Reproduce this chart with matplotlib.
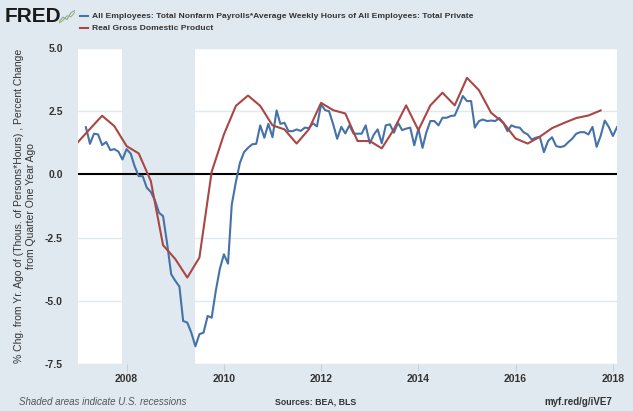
import matplotlib
matplotlib.use('Agg')
import matplotlib.pyplot as plt
import matplotlib.dates as mdates
import pandas as pd

# monthly: % chg from yr ago of (payrolls * avg weekly hours), Mar 2007 - Feb 2018
hours_start, hours_end = '2007-03-01', '2018-02-01'
hours_pct = [
    1.87, 1.21, 1.61, 1.58, 1.16, 1.28, 0.96, 1.00, 0.90, 0.59,
    1.00, 0.82, 0.33, -0.07, -0.07, -0.53, -0.69, -1.03, -1.52, -1.65, -2.75, -3.95,
    -4.21, -4.44, -5.80, -5.86, -6.26, -6.80, -6.32, -6.26, -5.60, -5.67, -4.61, -3.75,
    -3.16, -3.53, -1.20, -0.30, 0.45, 0.88, 1.05, 1.19, 1.21, 1.94, 1.45, 2.00,
    1.47, 2.53, 2.00, 2.04, 1.71, 1.71, 1.78, 1.72, 1.85, 1.83, 2.02, 1.90,
    2.77, 2.54, 2.50, 1.98, 1.41, 1.88, 1.62, 1.94, 1.61, 1.61, 1.61, 1.94,
    1.23, 1.58, 1.78, 1.23, 1.94, 1.98, 1.65, 2.04, 1.75, 1.81, 1.85, 1.15,
    1.81, 1.05, 1.65, 2.11, 2.11, 1.94, 2.24, 2.24, 2.31, 2.33, 2.70, 3.10,
    2.90, 2.90, 1.85, 2.11, 2.17, 2.11, 2.13, 2.11, 2.23, 2.04, 1.71, 1.94,
    1.87, 1.85, 1.67, 1.58, 1.38, 1.45, 1.49, 0.88, 1.32, 1.47, 1.12, 1.08,
    1.12, 1.28, 1.41, 1.61, 1.67, 1.67, 1.58, 1.88, 1.09, 1.52, 2.13, 1.88,
    1.52, 1.87,
]

# quarterly: real GDP, percent change from quarter one year ago, 2007Q1 - 2017Q4
gdp_start, gdp_end = '2007-01-01', '2017-10-01'
gdp_pct = [
    1.28, 1.80, 2.32, 1.91,
    1.12, 0.83, -0.26, -2.80,
    -3.35, -4.08, -3.29, 0.10,
    1.58, 2.71, 3.12, 2.71,
    1.94, 1.78, 1.22, 1.78,
    2.83, 2.54, 2.41, 1.32,
    1.32, 1.03, 1.78, 2.73,
    1.75, 2.73, 3.23, 2.73,
    3.82, 3.33, 2.44, 2.04,
    1.42, 1.22, 1.49, 1.83,
    2.04, 2.23, 2.33, 2.53,
]

recession = ('2007-12-01', '2009-06-01')
yticks = [5.0, 2.5, 0.0, -2.5, -5.0, -7.5]
xtick_years = [2008, 2010, 2012, 2014, 2016, 2018]

BG = '#e1e9f0'
BLUE = '#4572a7'
RED = '#aa4643'
TXT = '#333333'
fonts = ['Liberation Sans', 'DejaVu Sans']

hours_dates = pd.date_range(hours_start, hours_end, freq='MS')
gdp_dates = pd.date_range(gdp_start, gdp_end, freq='QS')

fig = plt.figure(figsize=(6.33, 4.11), dpi=100, facecolor=BG)
ax = fig.add_axes([78/633, 1-364/411, 539/633, 316/411])
ax.set_facecolor('white')

ax.axvspan(pd.Timestamp(recession[0]), pd.Timestamp(recession[1]), color=BG, lw=0, zorder=0)
for y in yticks:
    if y != 0:
        ax.axhline(y, color=BG, lw=1, zorder=1)
ax.axhline(0, color='black', lw=1.5, zorder=2)

ax.plot(hours_dates, hours_pct, color=BLUE, lw=1.5, zorder=3)
ax.plot(gdp_dates, gdp_pct, color=RED, lw=1.5, zorder=3)

ax.set_xlim(pd.Timestamp('2007-01-01'), pd.Timestamp('2018-02-01'))
ax.set_ylim(-7.5, 5.0)
ax.set_yticks(yticks)
ax.set_yticklabels([f'{v:.1f}' for v in yticks])
ax.set_xticks([pd.Timestamp(f'{y}-01-01') for y in xtick_years])
ax.xaxis.set_major_formatter(mdates.DateFormatter('%Y'))

for s in ax.spines.values():
    s.set_visible(False)
ax.tick_params(axis='y', length=0, pad=11)
ax.tick_params(axis='x', length=5, color='#c8d0d8', direction='out', pad=2)
for lab in ax.get_xticklabels() + ax.get_yticklabels():
    lab.set_family(fonts)
    lab.set_fontsize(7.5)
    lab.set_fontweight('bold')
    lab.set_color(TXT)

fig.text(25.5/633, 1-206/411,
         '% Chg. from Yr. Ago of (Thous. of Persons*Hours) , Percent Change\nfrom Quarter One Year Ago',
         rotation=90, ha='center', va='center', multialignment='center',
         family=fonts, fontsize=7.5, color=TXT, linespacing=1.25)

# header
fig.text(5/633, 1-16/411, 'FRED', family=fonts, fontsize=15,
         fontweight='bold', color='#1a1a1a', va='center', ha='left')
icon = fig.add_axes([59/633, 1-24/411, 16/633, 15/411])
icon.set_facecolor('#dfe7ee')
icon.plot([0, 1, 2, 3, 4], [0.5, 1.5, 1.0, 2.5, 3.0], color='#8aa0bd', lw=0.8)
icon.plot([0, 1, 2, 3, 4], [0.2, 0.8, 1.8, 1.6, 2.6], color='#9bbb59', lw=0.8)
icon.set_xlim(0, 4)
icon.set_ylim(0, 3.3)
icon.axis('off')

fig.lines.append(plt.Line2D([80/633, 88/633], [1-16/411, 1-16/411], color=BLUE, lw=1.5,
                            transform=fig.transFigure))
fig.lines.append(plt.Line2D([80/633, 88/633], [1-28/411, 1-28/411], color=RED, lw=1.5,
                            transform=fig.transFigure))
fig.text(92/633, 1-16/411,
         'All Employees: Total Nonfarm Payrolls*Average Weekly Hours of All Employees: Total Private',
         family=fonts, fontsize=6.1, fontweight='bold', color=TXT, va='center', ha='left')
fig.text(92/633, 1-28/411, 'Real Gross Domestic Product',
         family=fonts, fontsize=6.1, fontweight='bold', color=TXT, va='center', ha='left')

# footer
fig.text(19/633, 1-402/411, 'Shaded areas indicate U.S. recessions', family=fonts,
         fontsize=7, style='italic', color='#555555', va='center', ha='left')
fig.text(316/633, 1-402/411, 'Sources: BEA, BLS', family=fonts, fontsize=6.3,
         fontweight='bold', color=TXT, va='center', ha='center')
fig.text(612/633, 1-402/411, 'myf.red/g/iVE7', family=fonts, fontsize=7,
         fontweight='bold', color=TXT, va='center', ha='right')

fig.savefig('out.png', dpi=100, facecolor=BG)
